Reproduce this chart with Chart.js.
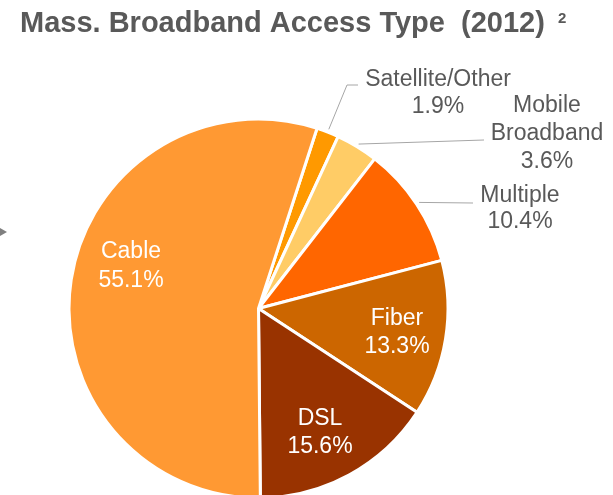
<!DOCTYPE html>
<html>
<head>
<meta charset="utf-8">
<script src="https://cdn.jsdelivr.net/npm/chart.js@4"></script>
<style>
  html, body { margin: 0; padding: 0; background: #fff; overflow: hidden; }
  #wrap { width: 613px; height: 495px; }
</style>
</head>
<body>
<div id="wrap"><canvas id="accessChart" width="613" height="495"></canvas></div>
<script>
// Massachusetts broadband access type, 2012 (percent of households)
const categories = ['Satellite/Other', 'Mobile Broadband', 'Multiple', 'Fiber', 'DSL', 'Cable'];
const shares = [1.9, 3.6, 10.4, 13.3, 15.6, 55.1];
const sliceColors = ['#FF9900', '#FFCC66', '#FF6600', '#CC6600', '#993300', '#FF9933'];

const titleText = 'Mass. Broadband Access Type  (2012)';
const titleNote = '2';

const FONT = '"Liberation Sans", Arial, sans-serif';
const GREY = '#595959';

// where each slice label sits; outside ones get a leader line back to the slice
const labelLayout = [
    { x: 438, lines: [86, 113], color: GREY, leader: [[347, 85], [358, 85]] },
    { x: 547, lines: [112, 140, 168], color: GREY, wrap: true, leader: [[484, 140]] },
    { x: 520, lines: [202, 228], color: GREY, leader: [[473, 203]] },
    { x: 397, lines: [325, 353], color: '#fff' },
    { x: 320, lines: [425, 453], color: '#fff' },
    { x: 131, lines: [258, 287], color: '#fff' }
];

const sliceLabels = {
    id: 'sliceLabels',
    afterDatasetsDraw(chart) {
        const ctx = chart.ctx;
        const arcs = chart.getDatasetMeta(0).data;
        ctx.save();

        // title with footnote marker
        ctx.fillStyle = GREY;
        ctx.textAlign = 'left';
        ctx.textBaseline = 'alphabetic';
        ctx.font = 'bold 29px ' + FONT;
        ctx.fillText(titleText, 20, 32);
        const w = ctx.measureText(titleText).width;
        ctx.font = 'bold 15px ' + FONT;
        ctx.fillText(titleNote, 20 + w + 13, 23);

        // small pointer on the left edge
        ctx.fillStyle = '#7F7F7F';
        ctx.beginPath();
        ctx.moveTo(0, 228);
        ctx.lineTo(7, 232);
        ctx.lineTo(0, 236);
        ctx.closePath();
        ctx.fill();

        ctx.font = '23px ' + FONT;
        ctx.textAlign = 'center';
        arcs.forEach((arc, i) => {
            const lay = labelLayout[i];
            const p = arc.getProps(['x', 'y', 'startAngle', 'endAngle', 'outerRadius'], true);

            if (lay.leader) {
                const mid = (p.startAngle + p.endAngle) / 2;
                const r = p.outerRadius + 3;
                ctx.strokeStyle = '#A6A6A6';
                ctx.lineWidth = 1;
                ctx.beginPath();
                ctx.moveTo(p.x + Math.cos(mid) * r, p.y + Math.sin(mid) * r);
                lay.leader.forEach(pt => ctx.lineTo(pt[0], pt[1]));
                ctx.stroke();
            }

            const name = lay.wrap ? categories[i].split(' ') : [categories[i]];
            const text = name.concat(shares[i].toFixed(1) + '%');
            ctx.fillStyle = lay.color;
            text.forEach((t, k) => ctx.fillText(t, lay.x, lay.lines[k]));
        });
        ctx.restore();
    }
};

new Chart(document.getElementById('accessChart'), {
    type: 'pie',
    data: {
        labels: categories,
        datasets: [{
            data: shares,
            backgroundColor: sliceColors,
            borderColor: '#ffffff',
            borderWidth: 3,
            radius: 189.5,
            clip: false
        }]
    },
    options: {
        responsive: false,
        animation: false,
        rotation: 18,
        layout: { padding: { left: 68, right: 164, top: 122, bottom: 0 } },
        plugins: {
            legend: { display: false },
            tooltip: { enabled: false },
            title: { display: false }
        }
    },
    plugins: [sliceLabels]
});
</script>
</body>
</html>
